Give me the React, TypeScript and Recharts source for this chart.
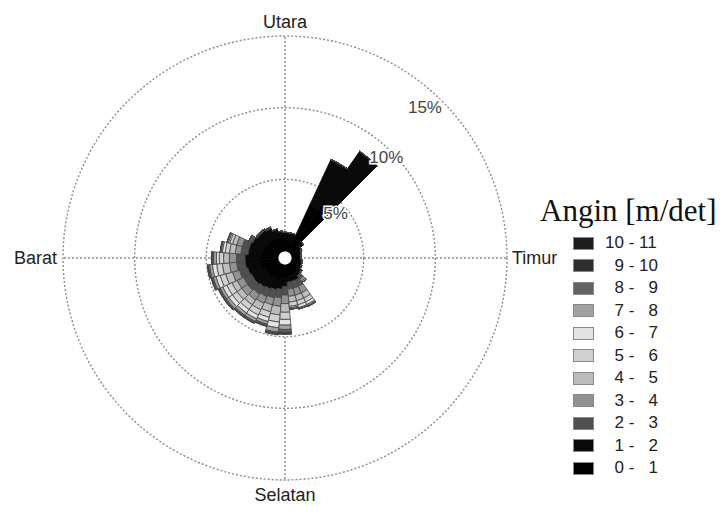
import React from 'react';
import { RadialBarChart, RadialBar, PolarGrid, PolarAngleAxis, PolarRadiusAxis, Legend } from 'recharts';

// wind directions in degrees, clockwise from north (Utara)
const directions = [
  0, 10, 20, 30, 40, 50, 60, 70, 80, 90, 100, 110,
  120, 130, 140, 150, 160, 170, 180, 190, 200, 210, 220, 230,
  240, 250, 260, 270, 280, 290, 300, 310, 320, 330, 340, 350,
];

const compassNames: Record<number, string> = { 0: 'Utara', 90: 'Timur', 180: 'Selatan', 270: 'Barat' };

const speedLow = [0, 1, 2, 3, 4, 5, 6, 7, 8, 9, 10];
const speedHigh = [1, 2, 3, 4, 5, 6, 7, 8, 9, 10, 11];
const classColors = ['#000000', '#0a0a0a', '#505050', '#929292', '#bcbcbc', '#d0d0d0', '#e4e4e4', '#a2a2a2', '#636363', '#2e2e2e', '#1c1c1c'];

// frequency (%) per direction for every speed class
const speed0to1 = [0.7, 0.7, 0.7, 3.6, 4.3, 0.6, 0.4, 0.35, 0.35, 0.35, 0.35, 0.4, 0.4, 0.5, 0.6, 0.7, 0.7, 0.7, 0.8, 0.9, 1.0, 1.0, 1.1, 1.1, 1.1, 1.2, 1.2, 1.2, 1.1, 1.1, 1.1, 1.0, 1.0, 1.0, 0.9, 0.8];
const speed1to2 = [0.6, 0.6, 0.6, 3.5, 4.3, 0.5, 0.4, 0.35, 0.3, 0.3, 0.35, 0.35, 0.4, 0.4, 0.4, 0.5, 0.5, 0.5, 0.7, 0.8, 0.8, 0.9, 0.9, 1.0, 1.0, 1.0, 1.1, 1.1, 1.0, 1.0, 0.9, 0.9, 0.9, 0.8, 0.7, 0.6];
const speed2to3 = [0, 0, 0, 0, 0, 0, 0, 0, 0, 0, 0, 0, 0, 0.1, 0.3, 0.5, 0.5, 0.5, 0.6, 0.6, 0.6, 0.6, 0.6, 0.6, 0.6, 0.6, 0.6, 0.6, 0.5, 0.5, 0.2, 0.1, 0.1, 0.1, 0, 0];
const speed3to4 = [0, 0, 0, 0, 0, 0, 0, 0, 0, 0, 0, 0, 0, 0, 0.2, 0.5, 0.5, 0.5, 0.6, 0.6, 0.5, 0.5, 0.5, 0.5, 0.5, 0.5, 0.5, 0.5, 0.4, 0.4, 0.1, 0, 0, 0, 0, 0];
const speed4to5 = [0, 0, 0, 0, 0, 0, 0, 0, 0, 0, 0, 0, 0, 0, 0.1, 0.4, 0.4, 0.4, 0.6, 0.6, 0.5, 0.5, 0.4, 0.4, 0.4, 0.5, 0.5, 0.4, 0.4, 0.3, 0, 0, 0, 0, 0, 0];
const speed5to6 = [0, 0, 0, 0, 0, 0, 0, 0, 0, 0, 0, 0, 0, 0, 0, 0.3, 0.3, 0.3, 0.5, 0.5, 0.4, 0.4, 0.4, 0.4, 0.4, 0.4, 0.4, 0.3, 0.3, 0.2, 0, 0, 0, 0, 0, 0];
const speed6to7 = [0, 0, 0, 0, 0, 0, 0, 0, 0, 0, 0, 0, 0, 0, 0, 0.2, 0.2, 0.1, 0.4, 0.4, 0.3, 0.3, 0.3, 0.3, 0.3, 0.3, 0.3, 0.2, 0.2, 0.1, 0, 0, 0, 0, 0, 0];
const speed7to8 = [0, 0, 0, 0, 0, 0, 0, 0, 0, 0, 0, 0, 0, 0, 0, 0.1, 0.1, 0.1, 0.3, 0.3, 0.2, 0.2, 0.2, 0.2, 0.2, 0.2, 0.2, 0.2, 0.1, 0.1, 0, 0, 0, 0, 0, 0];
const speed8to9 = [0, 0, 0, 0, 0, 0, 0, 0, 0, 0, 0, 0, 0, 0, 0, 0.05, 0, 0, 0.2, 0.1, 0.1, 0.1, 0.1, 0.1, 0.1, 0.1, 0.1, 0.1, 0.05, 0, 0, 0, 0, 0, 0, 0];
const speed9to10 = [0, 0, 0, 0, 0, 0, 0, 0, 0, 0, 0, 0, 0, 0, 0, 0, 0, 0, 0.1, 0.05, 0.05, 0.05, 0.05, 0.05, 0.05, 0.05, 0.05, 0.05, 0, 0, 0, 0, 0, 0, 0, 0];
const speed10to11 = [0, 0, 0, 0, 0, 0, 0, 0, 0, 0, 0, 0, 0, 0, 0, 0, 0, 0, 0.05, 0.05, 0, 0, 0, 0, 0, 0, 0, 0, 0, 0, 0, 0, 0, 0, 0, 0];

const speedSeries = [speed0to1, speed1to2, speed2to3, speed3to4, speed4to5, speed5to6, speed6to7, speed7to8, speed8to9, speed9to10, speed10to11];

const radiusTicks = [5, 10, 15];

const data = directions.map((dir, i) => {
  const row: Record<string, number> = { dir };
  speedSeries.forEach((s, k) => {
    row[`s${k}`] = s[i];
  });
  return row;
});

const CX = 285;
const CY = 258;
const sans = '"Liberation Sans", Arial, sans-serif';

function CompassTick(props: any) {
  const { x, y, payload } = props;
  const name = compassNames[payload.value];
  if (!name) return null;
  // ticks sit at the start of each 10° band, turn them back by half a band
  const t = (5 * Math.PI) / 180;
  const dx0 = x - CX;
  const dy0 = y - CY;
  const px = CX + dx0 * Math.cos(t) + dy0 * Math.sin(t);
  const py = CY - dx0 * Math.sin(t) + dy0 * Math.cos(t);
  let anchor = 'middle';
  let dx = 0;
  let dy = 0;
  if (payload.value === 90) { anchor = 'start'; dx = -3; dy = 6; }
  if (payload.value === 270) { anchor = 'end'; dx = 2; dy = 6; }
  if (payload.value === 180) { dy = 13; }
  return (
    <text x={px + dx} y={py + dy} textAnchor={anchor} fontFamily={sans} fontSize={18} fill="#222">
      {name}
    </text>
  );
}

// label nudges, as placed in the original figure
const percentNudge: Record<number, [number, number]> = { 5: [-5, 17], 10: [-5, 11], 15: [-17, 12] };

function PercentTick(props: any) {
  const { x, y, payload } = props;
  const [dx, dy] = percentNudge[payload.value] ?? [0, 0];
  return (
    <text
      x={x + dx}
      y={y + dy}
      textAnchor="middle"
      fontFamily={sans}
      fontSize={17}
      fill="#444"
      stroke="#fff"
      strokeWidth={3}
      paintOrder="stroke"
    >
      {`${payload.value}%`}
    </text>
  );
}

const pad = (n: number) => (n < 10 ? `\u2007${n}` : `${n}`);

function WindLegend() {
  const rows = speedLow.map((lo, k) => ({ lo, hi: speedHigh[k], color: classColors[k] })).reverse();
  return (
    <div>
      <div style={{ fontFamily: '"Liberation Serif", "Times New Roman", serif', fontSize: 31, lineHeight: '34px', color: '#111', whiteSpace: 'nowrap' }}>
        Angin [m/det]
      </div>
      <div style={{ marginTop: 4 }}>
        {rows.map((r) => (
          <div key={r.lo} style={{ display: 'flex', alignItems: 'center', height: 22.5 }}>
            <div style={{ marginLeft: 33, width: 19, height: 11, background: r.color, border: '1px solid #888' }} />
            <span style={{ marginLeft: 11, fontFamily: sans, fontSize: 17, color: '#222', whiteSpace: 'pre' }}>
              {`${pad(r.lo)} - ${pad(r.hi)}`}
            </span>
          </div>
        ))}
      </div>
    </div>
  );
}

export default function App() {
  return (
    <div style={{ position: 'absolute', left: 0, top: 0, width: 722, height: 519, background: '#fff' }}>
      <RadialBarChart
        width={722}
        height={519}
        data={data}
        layout="centric"
        cx={CX}
        cy={CY}
        innerRadius={7}
        outerRadius={222}
        startAngle={85}
        endAngle={-275}
        barCategoryGap={0}
        margin={{ top: 0, right: 0, bottom: 0, left: 0 }}
      >
        <PolarGrid gridType="circle" polarAngles={[90, 0, -90, 180]} stroke="#8c8c8c" strokeDasharray="2 2" strokeWidth={1.4} />
        <PolarAngleAxis type="category" dataKey="dir" tick={<CompassTick />} axisLine={false} tickLine={false} />
        {speedSeries.map((_, k) => (
          <RadialBar
            key={k}
            dataKey={`s${k}`}
            stackId="wind"
            fill={classColors[k]}
            stroke={k < 2 ? '#000' : '#444'}
            strokeWidth={0.8}
            isAnimationActive={false}
          />
        ))}
        <PolarRadiusAxis type="number" angle={45} domain={[0, 15]} ticks={radiusTicks} tick={<PercentTick />} axisLine={false} tickLine={false} />
        <Legend content={() => <WindLegend />} wrapperStyle={{ position: 'absolute', left: 540, top: 194, width: 182 }} />
      </RadialBarChart>
    </div>
  );
}
